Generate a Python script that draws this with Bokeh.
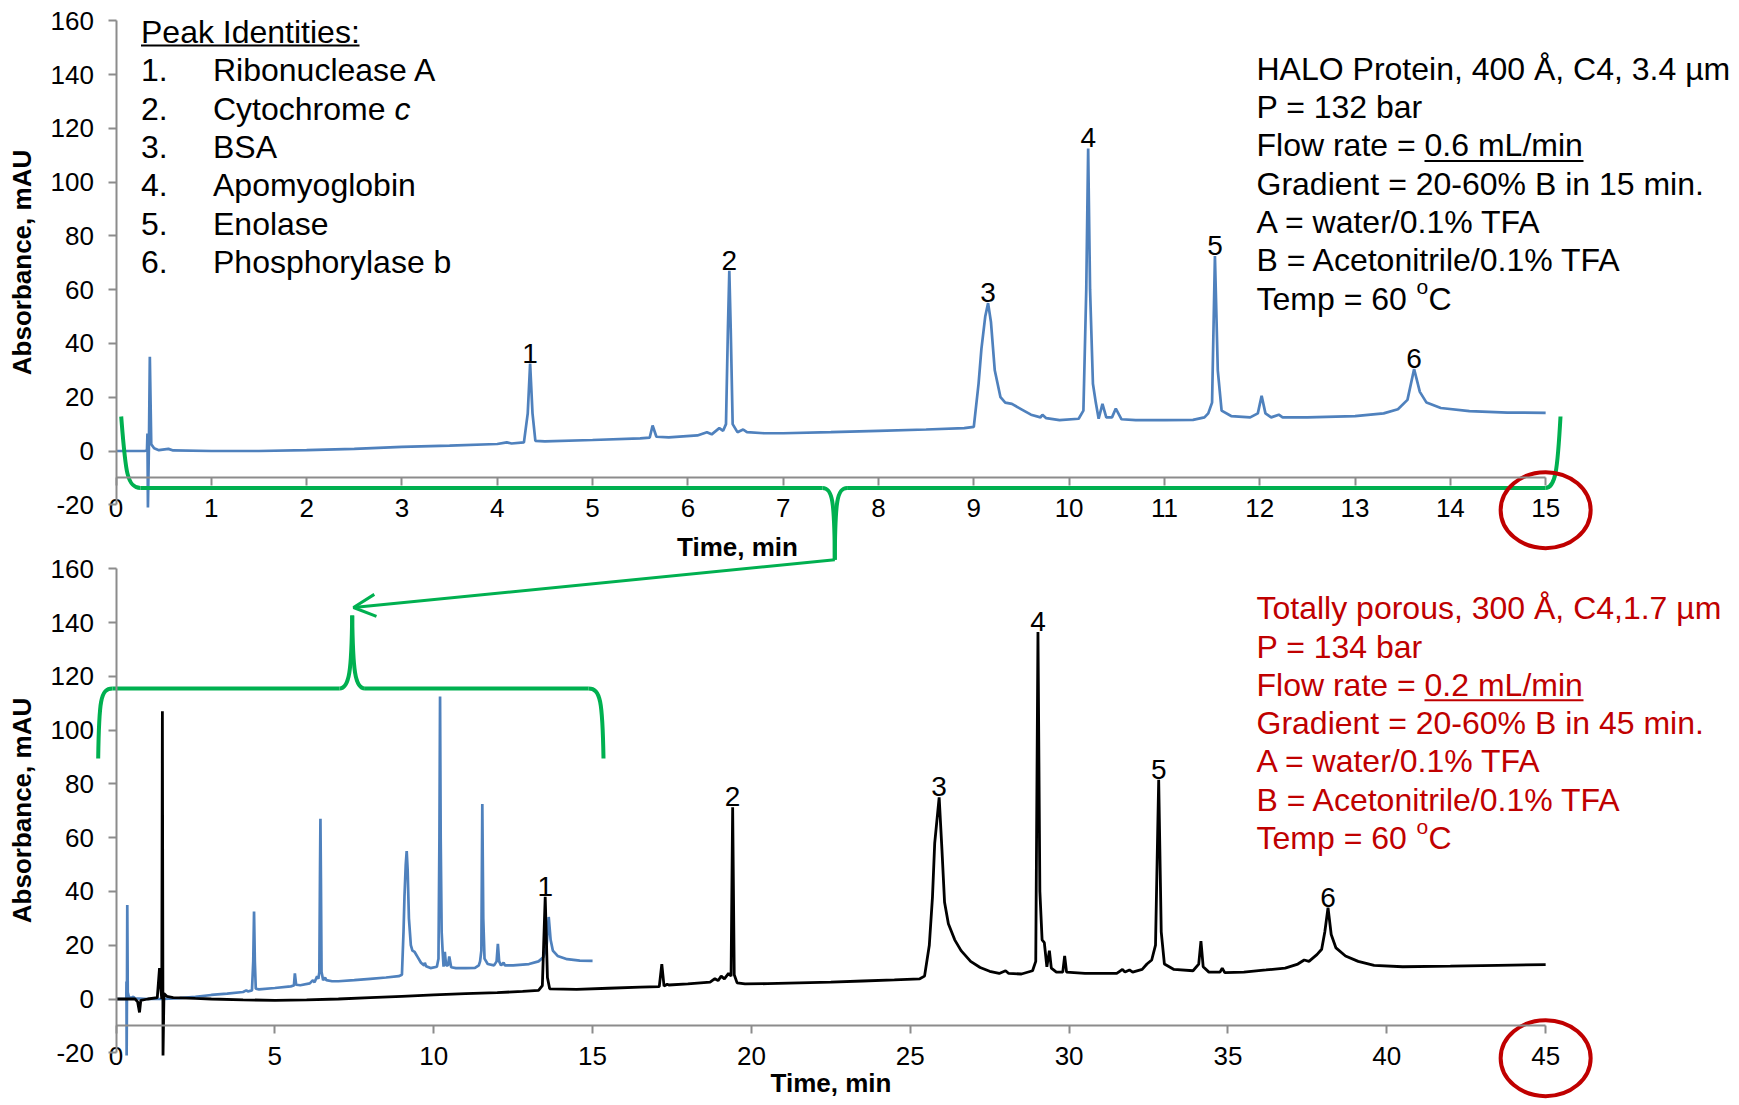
from bokeh.plotting import figure
from bokeh.models import Range1d, LinearAxis, FixedTicker, PrintfTickFormatter, Arrow, OpenHead
from bokeh.core.properties import value
from bokeh.embed import file_html
from bokeh.resources import INLINE

# ---------------------------------------------------------------- data
# HALO Protein 400 A, C4, 3.4 um  (blue trace, minutes / mAU)
halo_time = [0.00, 0.30, 0.325, 0.33, 0.335, 0.345, 0.355, 0.37, 0.40, 0.45,
             0.55, 0.60, 1.0, 1.5, 2.0, 2.5, 3.0, 3.5, 4.0, 4.10,
             4.15, 4.28, 4.32, 4.345, 4.37, 4.40, 4.5, 5.0, 5.5, 5.60,
             5.63, 5.67, 5.8, 6.1, 6.2, 6.25, 6.33, 6.37, 6.40, 6.42,
             6.435, 6.45, 6.47, 6.52, 6.58, 6.62, 6.8, 7.0, 7.5, 8.0,
             8.5, 8.9, 9.0, 9.05, 9.08, 9.12, 9.15, 9.18, 9.22, 9.28,
             9.33, 9.40, 9.5, 9.6, 9.7, 9.72, 9.76, 9.9, 10.1, 10.15,
             10.18, 10.20, 10.22, 10.25, 10.28, 10.31, 10.35, 10.39, 10.45, 10.49,
             10.55, 10.7, 11.0, 11.3, 11.42, 11.46, 11.50, 11.53, 11.56, 11.60,
             11.7, 11.9, 11.98, 12.02, 12.06, 12.12, 12.2, 12.24, 12.5, 13.0,
             13.3, 13.45, 13.55, 13.62, 13.68, 13.75, 13.9, 14.2, 14.6, 15.0]
halo_abs = [0.0, 0.0, 0.2, 6.5, -21.0, 1.0, 35.0, 2.5, 1.0, 0.3,
            0.8, 0.2, 0.0, 0.0, 0.3, 0.8, 1.5, 2.0, 2.6, 3.2,
            2.8, 3.2, 14.0, 32.5, 14.0, 3.8, 3.6, 4.1, 4.7, 5.0,
            9.5, 5.3, 5.1, 5.8, 7.0, 6.2, 8.5, 7.5, 10.0, 45.0,
            67.0, 45.0, 10.0, 7.0, 8.0, 7.0, 6.6, 6.6, 7.0, 7.5,
            8.0, 8.5, 9.0, 25.0, 38.0, 50.0, 55.0, 48.0, 30.0, 20.0,
            18.0, 17.5, 15.5, 13.5, 12.5, 13.5, 12.2, 11.5, 12.0, 15.0,
            60.0, 112.5, 60.0, 25.0, 18.0, 12.0, 17.5, 12.5, 12.5, 15.8,
            11.8, 11.5, 11.5, 11.6, 12.5, 14.0, 18.0, 72.5, 30.0, 15.0,
            13.0, 12.5, 14.0, 20.5, 14.0, 12.5, 13.5, 12.5, 12.5, 13.0,
            14.0, 15.5, 19.0, 30.5, 22.0, 18.0, 16.0, 14.8, 14.3, 14.2]

# Totally porous 300 A, C4, 1.7 um  (black trace)
tp_time = [0.0, 0.60, 0.68, 0.74, 0.78, 1.0, 1.30, 1.37, 1.41, 1.44,
           1.46, 1.48, 1.51, 1.6, 1.8, 2.5, 3.0, 4.0, 5.0, 6.0,
           7.0, 8.0, 9.0, 10.0, 11.0, 12.0, 12.8, 13.3, 13.42, 13.51,
           13.58, 13.65, 14.5, 15.5, 16.5, 17.1, 17.18, 17.25, 17.35, 17.4,
           18.0, 18.7, 18.85, 18.95, 19.05, 19.15, 19.28, 19.36, 19.41, 19.46,
           19.55, 19.8, 20.5, 21.5, 22.5, 23.5, 24.5, 25.3, 25.45, 25.6,
           25.7, 25.77, 25.91, 26.0, 26.08, 26.2, 26.4, 26.6, 26.9, 27.2,
           27.5, 27.8, 28.0, 28.1, 28.5, 28.85, 28.95, 29.02, 29.08, 29.15,
           29.22, 29.3, 29.38, 29.44, 29.6, 29.8, 29.86, 29.92, 30.5, 31.5,
           31.68, 31.76, 31.9, 32.0, 32.3, 32.45, 32.6, 32.72, 32.82, 32.9,
           33.0, 33.3, 33.9, 34.08, 34.15, 34.22, 34.4, 34.75, 34.82, 34.9,
           35.5, 36.2, 36.8, 37.2, 37.4, 37.55, 37.8, 37.95, 38.05, 38.15,
           38.25, 38.4, 38.7, 39.1, 39.6, 40.5, 42.0, 43.5, 45.0]
tp_abs = [0.0, 0.0, -1.0, -5.0, -0.5, 0.0, 0.5, 11.5, 4.0, 0.0,
          107.0, -21.0, 2.0, 1.0, 0.5, 0.2, 0.0, -0.3, -0.5, -0.3,
          0.0, 0.5, 1.0, 1.5, 2.0, 2.4, 2.8, 3.2, 5.0, 38.0,
          8.0, 3.8, 3.6, 4.0, 4.4, 4.6, 13.0, 4.8, 5.5, 5.2,
          5.6, 6.3, 7.6, 6.8, 8.5, 7.5, 9.5, 8.5, 71.3, 9.0,
          6.0, 5.6, 5.7, 6.0, 6.3, 6.7, 7.1, 7.5, 8.5, 20.0,
          38.0, 58.0, 75.0, 55.0, 36.0, 28.0, 22.0, 18.0, 14.0, 11.7,
          10.3, 9.5, 10.5, 9.5, 9.3, 10.5, 14.0, 136.5, 40.0, 22.0,
          21.0, 12.0, 18.0, 11.5, 10.0, 10.0, 16.0, 10.0, 9.5, 9.5,
          11.0, 10.0, 10.8, 10.0, 11.0, 13.0, 14.5, 20.0, 81.5, 25.0,
          13.0, 11.0, 10.5, 13.0, 21.5, 12.0, 10.0, 10.0, 11.5, 9.8,
          10.0, 10.8, 11.5, 13.0, 14.5, 14.0, 16.5, 18.5, 25.0, 34.0,
          24.0, 19.0, 16.0, 14.0, 12.5, 12.0, 12.2, 12.5, 12.8]

peak_labels = ["1", "2", "3", "4", "5", "6"]
halo_peak_time = [4.345, 6.435, 9.15, 10.20, 11.53, 13.62]
halo_peak_abs = [32.5, 67.0, 55.0, 112.5, 72.5, 30.5]
tp_peak_time = [13.51, 19.41, 25.91, 29.02, 32.82, 38.15]
tp_peak_abs = [38.0, 71.3, 75.0, 136.5, 81.5, 34.0]

absorbance_ticks = [-20, 0, 20, 40, 60, 80, 100, 120, 140, 160]
top_time_ticks = list(range(0, 16))
bottom_time_ticks = list(range(0, 46, 5))

legend_title = "Peak Identities:"
peak_numbers = ["1.", "2.", "3.", "4.", "5.", "6."]
peak_names = ["Ribonuclease A", "Cytochrome ", "BSA", "Apomyoglobin", "Enolase", "Phosphorylase b"]
halo_conditions = ["HALO Protein, 400 \u00c5, C4, 3.4 \u00b5m", "P = 132 bar",
                   "Flow rate = 0.6 mL/min", "Gradient = 20-60% B in 15 min.",
                   "A = water/0.1% TFA", "B = Acetonitrile/0.1% TFA", "Temp = 60 "]
tp_conditions = ["Totally porous, 300 \u00c5, C4,1.7 \u00b5m", "P = 134 bar",
                 "Flow rate = 0.2 mL/min", "Gradient = 20-60% B in 45 min.",
                 "A = water/0.1% TFA", "B = Acetonitrile/0.1% TFA", "Temp = 60 "]

# ---------------------------------------------------------------- layout / style
FIG_W, FIG_H = 1736, 1104
PAGE_ORIGIN = 0         # the figure starts at the page's top-left corner
X_ZERO = 115.5          # page x of t = 0 (both charts)
PX_PER_MIN_TOP = 95.31
PX_PER_MIN_BOT = PX_PER_MIN_TOP / 3.0
PX_PER_MAU = 2.689
Y_ZERO_TOP = 450.5      # page y of 0 mAU, top chart
Y_ZERO_BOT = 998.5      # page y of 0 mAU, bottom chart
AXIS_CROSS = -10

BLUE = "#4F81BD"
GREEN = "#00B050"
RED = "#C00000"
AXIS_GRAY = "#8C8C8C"
FONT = "Liberation Sans"


def tx(px):
    return (px - X_ZERO) / PX_PER_MIN_TOP


def ty(py):
    return (Y_ZERO_TOP - py) / PX_PER_MAU


def bx(px):
    return (px - X_ZERO) / PX_PER_MIN_BOT


def by(py):
    return (Y_ZERO_BOT - py) / PX_PER_MAU


left, right = PAGE_ORIGIN, PAGE_ORIGIN + FIG_W
top, bottom = PAGE_ORIGIN, PAGE_ORIGIN + FIG_H

p = figure(width=FIG_W, height=FIG_H, output_backend="svg", toolbar_location=None,
           x_range=Range1d(tx(left), tx(right)), y_range=Range1d(ty(bottom), ty(top)),
           x_axis_type=None, y_axis_type=None, min_border=0,
           outline_line_color=None, background_fill_color="white", border_fill_color="white")
p.extra_x_ranges = {"bx": Range1d(bx(left), bx(right))}
p.extra_y_ranges = {"by": Range1d(by(bottom), by(top))}
BOT = dict(x_range_name="bx", y_range_name="by")


def style_axis(ax):
    ax.axis_line_color = AXIS_GRAY
    ax.axis_line_width = 2
    ax.major_tick_line_color = AXIS_GRAY
    ax.major_tick_line_width = 2
    ax.major_tick_in = 0
    ax.major_tick_out = 8
    ax.minor_tick_line_color = None
    ax.major_label_text_font = FONT
    ax.major_label_text_font_size = "26px"
    ax.major_label_text_color = "black"
    ax.axis_label_text_font = FONT
    ax.axis_label_text_font_size = "26px"
    ax.axis_label_text_font_style = "bold"
    ax.axis_label_text_color = "black"
    ax.formatter = PrintfTickFormatter(format="%d")
    return ax


# top chart axes
ay_top = style_axis(LinearAxis(ticker=FixedTicker(ticks=absorbance_ticks),
                               bounds=(absorbance_ticks[0], absorbance_ticks[-1]),
                               fixed_location=0, axis_label="Absorbance, mAU",
                               major_label_standoff=14, axis_label_standoff=11))
ax_top = style_axis(LinearAxis(ticker=FixedTicker(ticks=top_time_ticks),
                               bounds=(top_time_ticks[0], top_time_ticks[-1]),
                               fixed_location=AXIS_CROSS, major_label_standoff=13))
p.add_layout(ay_top, "left")
p.add_layout(ax_top, "below")

# bottom chart axes
ay_bot = style_axis(LinearAxis(ticker=FixedTicker(ticks=absorbance_ticks),
                               bounds=(absorbance_ticks[0], absorbance_ticks[-1]),
                               fixed_location=0, axis_label="Absorbance, mAU",
                               major_label_standoff=14, axis_label_standoff=11, **BOT))
ax_bot = style_axis(LinearAxis(ticker=FixedTicker(ticks=bottom_time_ticks),
                               bounds=(bottom_time_ticks[0], bottom_time_ticks[-1]),
                               fixed_location=AXIS_CROSS, axis_label="Time, min",
                               major_label_standoff=13, axis_label_standoff=0, **BOT))
p.add_layout(ay_bot, "left")
p.add_layout(ax_bot, "below")

# ---------------------------------------------------------------- traces
p.line(halo_time, halo_abs, line_color=BLUE, line_width=2.7)
p.line(halo_time, halo_abs, line_color=BLUE, line_width=2.7, **BOT)
p.line(tp_time, tp_abs, line_color="black", line_width=2.8, **BOT)

lbl = dict(text_font=value(FONT), text_font_size="28px", text_color="black",
           text_align="center", text_baseline="bottom", y_offset=-1)
p.text(halo_peak_time, halo_peak_abs, text=peak_labels, **lbl)
p.text(tp_peak_time, tp_peak_abs, text=peak_labels, **lbl, **BOT)

# top x title (shifted left as in the original)
p.text([tx(737)], [ty(546)], text=["Time, min"], text_font=value(FONT), text_font_size="26px",
       text_font_style="bold", text_align="center", text_baseline="middle")

# ---------------------------------------------------------------- text blocks
TXT = dict(text_font=value(FONT), text_font_size="32px", text_baseline="middle", text_align="left")
LINE = 38.3
p.text([tx(140.5)], [ty(31)], text=[legend_title], text_color="black", **TXT)
p.segment(x0=[tx(140.5)], y0=[ty(45)], x1=[tx(359)], y1=[ty(45)], line_color="black", line_width=2)
list_y = [ty(69.8 + i * LINE) for i in range(len(peak_numbers))]
p.text([tx(140.5)] * len(peak_numbers), list_y, text=peak_numbers, text_color="black", **TXT)
p.text([tx(212.5)] * len(peak_names), list_y, text=peak_names, text_color="black", **TXT)
p.text([tx(394)], [list_y[1]], text=["c"], text_color="black",
       text_font=value(FONT), text_font_size="32px", text_font_style="italic",
       text_baseline="middle", text_align="left")


def condition_block(lines, y0, color):
    ys = [ty(y0 + i * LINE) for i in range(len(lines))]
    p.text([tx(1256)] * len(lines), ys, text=lines, text_color=color, **TXT)
    # underline of the flow rate value
    yu = ty(y0 + 2 * LINE + 15.5)
    p.segment(x0=[tx(1424)], y0=[yu], x1=[tx(1583)], y1=[yu], line_color=color, line_width=2)
    # superscript "o" and "C"
    yt = y0 + 6 * LINE
    p.text([tx(1416)], [ty(yt - 12)], text=["o"], text_color=color, text_font=value(FONT),
           text_font_size="21px", text_baseline="middle", text_align="left")
    p.text([tx(1428)], [ty(yt)], text=["C"], text_color=color, **TXT)


condition_block(halo_conditions, 68.3, "black")
condition_block(tp_conditions, 607.7, RED)

# ---------------------------------------------------------------- green braces & arrow
# top brace (page coordinates converted to the top chart)
tb = [((120.7, 416), (125, 470), (126, 487.5), (140, 487.5)),
      ((822, 487.5), (832, 487.5), (834, 500), (834.3, 559.3)),
      ((834.3, 559.3), (834.6, 500), (836.6, 487.5), (846.6, 487.5)),
      ((1545, 487.5), (1555, 487.5), (1557, 470), (1560, 416))]
p.bezier(x0=[tx(c[0][0]) for c in tb], y0=[ty(c[0][1]) for c in tb],
         cx0=[tx(c[1][0]) for c in tb], cy0=[ty(c[1][1]) for c in tb],
         cx1=[tx(c[2][0]) for c in tb], cy1=[ty(c[2][1]) for c in tb],
         x1=[tx(c[3][0]) for c in tb], y1=[ty(c[3][1]) for c in tb],
         line_color=GREEN, line_width=4)
p.segment(x0=[tx(140), tx(846.6)], y0=[ty(487.5)] * 2, x1=[tx(822), tx(1545)], y1=[ty(487.5)] * 2,
          line_color=GREEN, line_width=4)

# bottom brace
bb = [((97.7, 758), (98.5, 700), (100, 688), (112, 688)),
      ((339, 688), (349, 688), (351, 670), (351.7, 615)),
      ((351.7, 615), (352.4, 670), (354.4, 688), (364.4, 688)),
      ((588, 688), (600, 688), (602, 700), (603, 758))]
p.bezier(x0=[bx(c[0][0]) for c in bb], y0=[by(c[0][1]) for c in bb],
         cx0=[bx(c[1][0]) for c in bb], cy0=[by(c[1][1]) for c in bb],
         cx1=[bx(c[2][0]) for c in bb], cy1=[by(c[2][1]) for c in bb],
         x1=[bx(c[3][0]) for c in bb], y1=[by(c[3][1]) for c in bb],
         line_color=GREEN, line_width=4, **BOT)
p.segment(x0=[bx(112), bx(364.4)], y0=[by(688)] * 2, x1=[bx(339), bx(588)], y1=[by(688)] * 2,
          line_color=GREEN, line_width=4, **BOT)

p.add_layout(Arrow(end=OpenHead(size=22, line_color=GREEN, line_width=3),
                   x_start=bx(834.3), y_start=by(559.3), x_end=bx(353), y_end=by(607),
                   line_color=GREEN, line_width=3, **BOT))

# ---------------------------------------------------------------- red circles round the last ticks
CIRCLE_Y = -22
p.ellipse(x=[top_time_ticks[-1]], y=[CIRCLE_Y], width=90, height=76,
          width_units="screen", height_units="screen",
          fill_color=None, line_color=RED, line_width=4)
p.ellipse(x=[bottom_time_ticks[-1]], y=[CIRCLE_Y], width=90, height=76,
          width_units="screen", height_units="screen",
          fill_color=None, line_color=RED, line_width=4, **BOT)

open("out.html", "w").write(file_html(p, INLINE))
